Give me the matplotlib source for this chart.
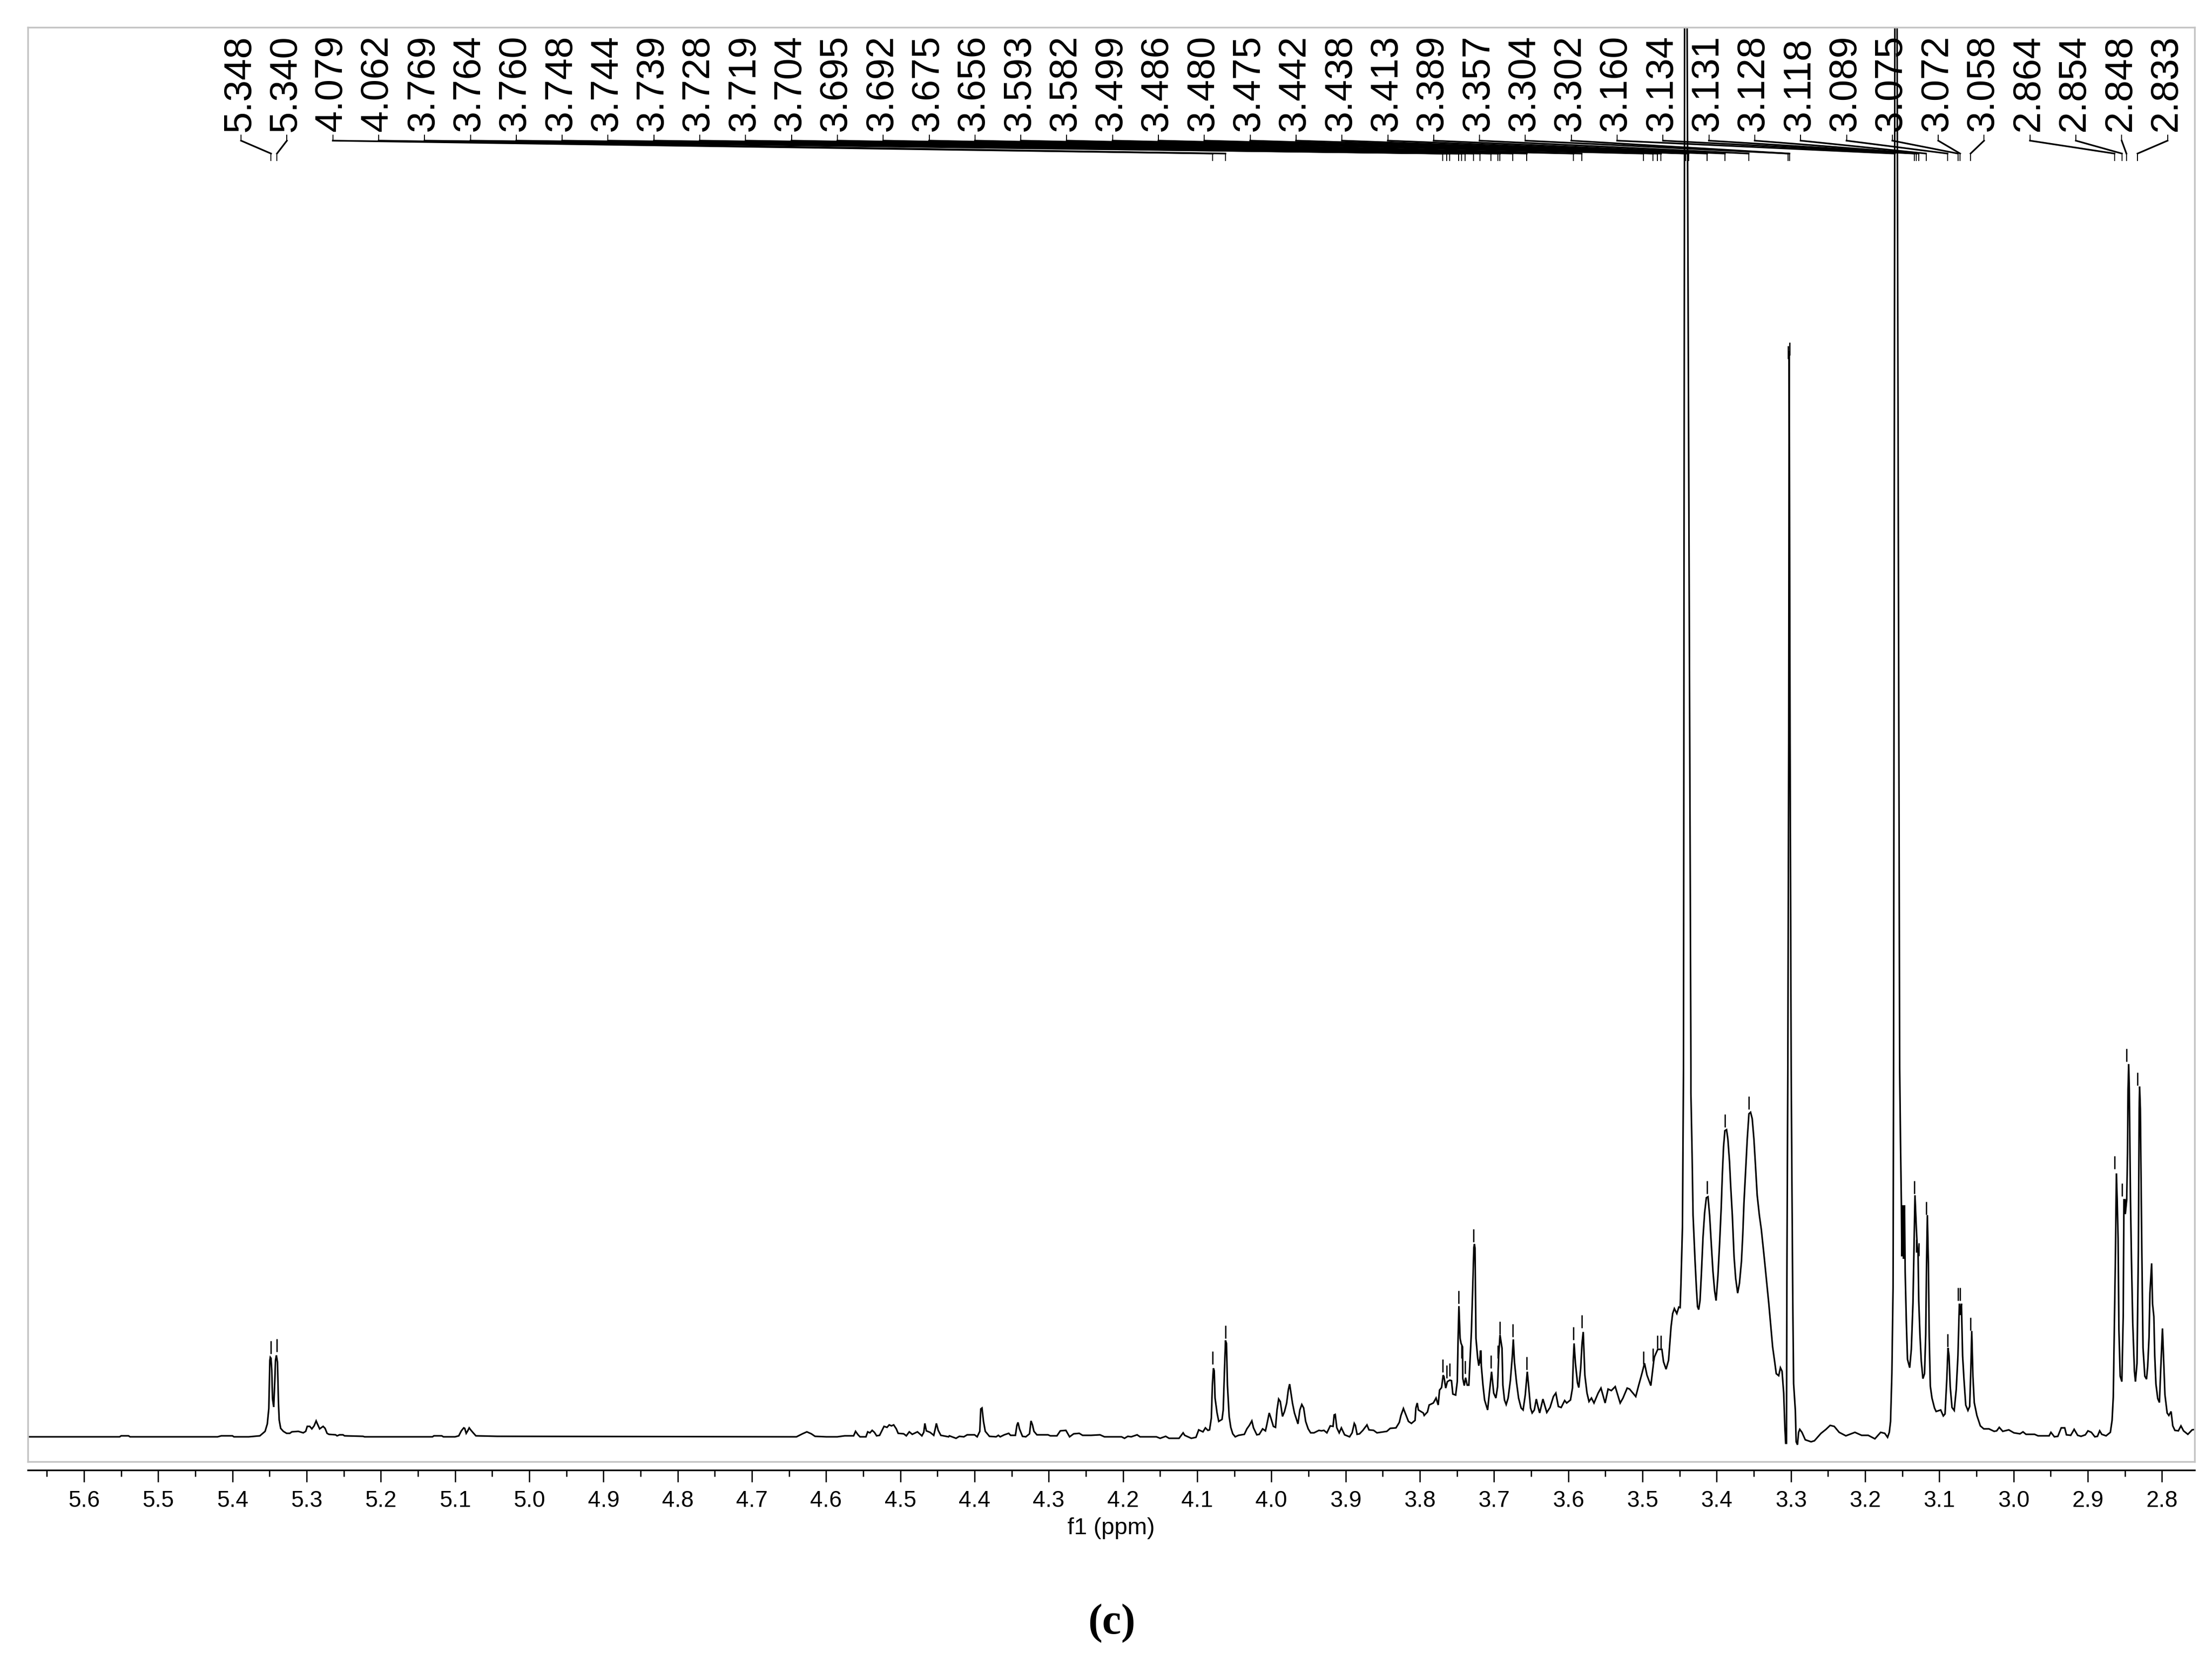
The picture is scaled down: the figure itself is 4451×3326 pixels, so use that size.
import numpy as np
import matplotlib
matplotlib.use("Agg")
import matplotlib.pyplot as plt
from matplotlib.lines import Line2D

# ---------- data (ppm, intensity) ----------
region_far_left = [
    (5.676,0),(5.552,0),(5.550,2),(5.540,2),(5.538,0),(5.420,0),(5.415,2),(5.400,2),(5.398,0),
    (5.378,0),(5.363,2),(5.356,11),(5.353,26),(5.351,57),(5.3496,154),(5.349,160),(5.348,158),
    (5.347,134),(5.346,77),(5.3444,60),(5.343,110),(5.342,154),(5.3408,164),(5.3393,150),(5.338,70),
    (5.337,34),(5.335,17),(5.3314,11),(5.327,7),(5.3227,7),(5.320,10),(5.3113,11),(5.3046,8),
    (5.3013,11),(5.2992,21),(5.2958,21),(5.293,16),(5.29,22),(5.2872,32),(5.2858,27),(5.2825,16),
    (5.2778,21),(5.2752,17),(5.2725,7),(5.27,5),(5.261,4),(5.259,2),(5.2557,4),(5.251,4),(5.249,2),
    (5.224,1),(5.222,0),(5.1305,0),(5.1285,2),(5.118,2),(5.1157,0),(5.1,0),(5.095,2),(5.0916,12),
    (5.0883,18),(5.087,17),(5.085,7),(5.083,12),(5.081,18),(5.079,14),(5.0756,8),(5.072,2),(5.0434,1),
    (4.640,0),(4.632,6),(4.626,10),(4.62,6),(4.615,1),(4.60,0),(4.585,0),
]
region_4p5 = [
    (4.575,2),(4.563,2),(4.5604,11),(4.557,4),(4.5544,0),(4.5464,0),(4.544,10),(4.541,8),(4.538,13),
    (4.535,9),(4.532,2),(4.528,3),(4.522,21),(4.518,19),(4.515,24),(4.512,22),(4.509,24),(4.5055,16),
    (4.503,7),(4.4955,6),(4.492,2),(4.488,10),(4.484,5),(4.477,10),(4.471,2),(4.4685,9),(4.467,27),
    (4.465,12),(4.46,9),(4.455,3),(4.453,16),(4.4515,27),(4.449,13),(4.4455,3),(4.435,0),(4.434,2),
    (4.425,-3),(4.4205,1),(4.4145,0),(4.41,4),(4.4,4),(4.3965,0),(4.393,11),(4.3917,56),(4.39,58),
    (4.388,31),(4.3856,11),(4.38,1),(4.371,0),(4.368,3),(4.3655,0),(4.36,4),(4.354,7),(4.3515,3),
    (4.345,3),(4.343,23),(4.3415,29),(4.3395,16),(4.3355,1),(4.331,0),(4.326,6),(4.324,32),(4.322,24),
    (4.32,11),(4.316,4),(4.301,4),(4.298,2),(4.289,2),(4.2845,12),(4.277,13),(4.272,0),(4.2665,6),
    (4.259,7),(4.2545,3),(4.243,3),(4.231,4),(4.225,0),(4.202,0),(4.198,-3),(4.1935,1),(4.189,0),
    (4.181,4),(4.177,0),(4.155,0),(4.15,-3),(4.1425,1),(4.138,-3),(4.1245,-3),
]
region_4p0 = [
    (4.119,8),(4.1169,3),(4.108,-3),(4.1017,-1),(4.098,14),(4.0923,10),(4.089,18),(4.0856,13),(4.0834,14),
    (4.081,38),(4.0796,104),(4.0782,138),(4.0771,133),(4.076,78),(4.0733,48),(4.071,31),(4.0666,35),
    (4.065,54),(4.0632,138),(4.0619,194),(4.0606,188),(4.0593,104),(4.0570,41),(4.0548,19),(4.0521,6),
    (4.0488,0),(4.0443,3),(4.0365,5),(4.0331,16),(4.0298,23),(4.0264,32),(4.0242,18),(4.0197,4),
    (4.0164,5),(4.0119,16),(4.0081,12),(4.0063,24),(4.003,48),(4.0008,38),(3.9974,21),(3.9945,19),
    (3.9925,54),(3.9903,76),(3.9881,71),(3.9851,41),(3.9824,51),(3.9795,68),(3.9773,94),(3.9755,106),
    (3.974,91),(3.9717,68),(3.969,48),(3.9643,26),(3.9617,54),(3.9591,65),(3.9566,58),(3.9539,31),
    (3.9505,16),(3.9472,8),(3.9427,8),(3.936,13),(3.9327,12),(3.9293,13),(3.9253,8),(3.9208,22),
    (3.917,21),(3.9155,44),(3.9141,45),(3.9119,18),(3.9087,8),(3.9058,18),(3.9014,4),(3.8947,0),
    (3.8913,8),(3.8884,27),(3.8869,23),(3.8846,5),(3.8813,6),(3.8768,13),(3.8713,24),(3.8686,14),
    (3.8623,13),(3.8578,8),(3.8445,11),(3.84,17),(3.8322,18),(3.8277,29),(3.8255,43),(3.8222,57),
    (3.8188,44),(3.8154,31),(3.8114,27),(3.8065,33),(3.8054,58),(3.8036,68),(3.802,54),(3.7954,48),
    (3.7942,43),(3.7898,50),(3.7875,64),(3.7819,68),(3.7782,78),(3.7753,64),
]
region_3p6 = [
    (3.7735,94),(3.7708,99),(3.7686,124),(3.7675,121),(3.7652,98),(3.763,111),(3.7596,114),(3.7574,113),
    (3.7556,86),(3.7518,84),(3.7496,111),(3.7485,198),(3.7474,263),(3.7458,198),(3.7445,188),(3.7425,181),
    (3.7422,118),(3.7402,103),(3.7384,119),(3.7362,104),(3.7340,104),(3.7324,154),(3.7306,211),(3.7284,321),
    (3.7273,380),(3.7266,388),(3.7257,380),(3.7244,198),(3.7221,158),(3.7206,143),(3.7177,174),(3.7172,143),
    (3.715,104),(3.7128,74),(3.7087,54),(3.706,94),(3.7034,131),(3.7005,88),(3.6976,78),(3.6953,101),
    (3.6938,164),(3.692,205),(3.6893,178),(3.6882,104),(3.6860,74),(3.6837,65),(3.6811,78),(3.6781,113),
    (3.6755,161),(3.6741,196),(3.6726,151),(3.6699,111),(3.667,78),(3.6636,58),(3.6609,54),(3.658,84),
    (3.6553,131),(3.6536,104),(3.6509,58),(3.6487,48),(3.6458,54),(3.6431,76),(3.6409,61),(3.6386,48),
    (3.6342,76),(3.629,49),(3.6246,59),(3.6201,81),(3.6168,88),(3.6134,61),(3.6096,59),(3.6049,73),
    (3.6022,68),(3.5971,74),(3.5944,98),(3.5933,154),(3.5922,188),(3.5904,148),(3.5877,109),(3.5859,99),
    (3.5833,138),(3.5815,188),(3.5799,211),(3.5777,124),(3.5748,88),(3.5721,71),(3.5688,78),(3.5654,68),
    (3.5598,88),(3.556,98),(3.5504,68),(3.5464,96),(3.542,93),(3.5368,101),(3.5301,68),(3.5263,78),
    (3.5207,98),(3.5174,96),(3.5091,81),(3.5051,104),(3.5007,128),(3.4973,148),(3.494,124),(3.4888,103),
    (3.485,151),(3.4839,161),(3.4795,176),(3.4739,176),(3.4717,151),(3.4683,136),(3.4649,154),(3.4634,184),
    (3.4616,221),(3.4594,248),(3.4571,258),(3.4538,248),(3.4511,261),
]
region_3p4 = [
    (3.4493,260),(3.4482,309),(3.4462,422),(3.4448,741),(3.4433,2836),(3.4416,3400),(3.4399,2836),
    (3.4348,741),(3.4348,692),(3.4332,569),(3.4319,446),(3.4292,353),(3.4274,299),(3.4259,262),(3.4243,256),
    (3.4225,274),(3.4207,328),(3.4185,402),(3.4163,451),(3.414,481),(3.4118,483),(3.4096,446),(3.4073,387),
    (3.4051,333),(3.4029,294),(3.4009,274),(3.3984,323),(3.3962,387),(3.394,461),(3.3924,530),(3.3908,584),
    (3.389,616),(3.3868,618),(3.385,599),(3.3828,554),(3.3812,505),(3.379,446),(3.3767,363),(3.3745,319),
    (3.3718,289),(3.3694,309),(3.3667,353),(3.3649,407),(3.3633,471),(3.3611,535),(3.3589,599),(3.3566,650),
    (3.3544,653),(3.3522,640),(3.3499,599),(3.3477,544),(3.3455,486),(3.3426,446),(3.3399,417),(3.3365,368),
    (3.3332,319),(3.3299,269),(3.327,220),(3.3247,181),(3.322,152),(3.3198,127),(3.3165,123),(3.3142,139),
    (3.312,132),(3.3098,88),(3.3082,19),(3.3071,-13),(3.306,-13),(3.3055,300),(3.3042,741),(3.3030,1400),
    (3.3024,2185),(3.3012,1400),(3.2997,741),(3.2986,495),(3.2975,269),(3.2964,107),(3.2941,53),(3.293,-10),
    (3.2912,-16),(3.2897,9),(3.2881,15),(3.2852,9),(3.2807,-6),(3.2729,-10),(3.2684,-8),(3.2595,7),(3.2528,15),
    (3.2472,23),(3.2417,21),(3.235,9),(3.226,2),(3.2138,9),(3.2048,3),(3.1959,3),(3.1869,-4),(3.1791,9),
    (3.1736,7),(3.1698,-1),(3.1675,9),(3.1658,31),(3.164,127),(3.1624,299),(3.1617,741),(3.1600,2836),
    (3.1585,3400),(3.1570,2836),(3.1535,741),
]
region_3p1 = [
    (3.1524,594),(3.1512,466),(3.1506,363),(3.1491,466),(3.1483,358),(3.147,466),(3.1461,333),(3.1445,230),
    (3.143,156),(3.14,139),(3.1378,176),(3.1356,269),(3.134,397),(3.1329,486),(3.1311,422),(3.13,387),
    (3.1287,368),(3.1278,274),(3.1262,206),(3.1244,152),(3.1222,117),(3.12,127),(3.1184,206),(3.1173,348),
    (3.1162,446),(3.1148,348),(3.1137,201),(3.1122,102),(3.11,78),(3.1066,58),(3.1044,51),
    (3.0982,54),(3.0947,42),(3.0924,46),(3.09,116),(3.0884,179),(3.087,163),(3.0854,101),(3.083,59),(3.08,53),
    (3.0773,95),(3.0750,163),(3.0731,268),(3.0715,245),(3.0703,268),(3.0687,163),(3.0669,116),(3.0645,64),
    (3.0615,53),(3.0592,61),(3.0576,137),(3.0564,213),(3.0548,122),(3.053,69),(3.0495,43),(3.0448,22),
    (3.0402,16),(3.0332,16),(3.0262,11),(3.0228,12),(3.0193,19),(3.0146,11),(3.0065,14),(2.9996,8),
    (2.9914,6),(2.9873,10),(2.9833,5),(2.9717,5),(2.9671,2),(2.9521,2),(2.9497,9),(2.9450,0),(2.9404,1),
    (2.9358,18),(2.9311,18),(2.9288,4),(2.923,3),(2.9184,15),(2.9137,3),(2.9091,1),(2.9033,4),(2.8998,12),
    (2.8952,9),(2.8905,0),(2.887,1),(2.884,12),(2.8812,5),(2.8754,2),(2.8696,9),
]
region_2p8 = [
    (2.8673,33),(2.8657,80),(2.8643,216),(2.8627,373),(2.8615,530),(2.8604,477),(2.8592,399),(2.8581,216),
    (2.8564,122),(2.8541,111),(2.8523,242),(2.8513,477),(2.8499,477),(2.8495,448),(2.8476,477),(2.8465,571),
    (2.8458,700),(2.8449,750),(2.8441,700),(2.8425,477),(2.8412,357),(2.8395,231),(2.8372,132),(2.8358,111),
    (2.8337,148),(2.8319,373),(2.8308,660),(2.8302,705),(2.8292,660),(2.8272,373),(2.8256,179),(2.8232,122),
    (2.8209,116),(2.8193,142),(2.8175,200),(2.8163,289),(2.814,349),(2.8128,268),(2.811,242),(2.8098,163),
    (2.8082,106),(2.8058,77),(2.8035,69),(2.8017,137),(2.7994,218),(2.7978,153),(2.7961,85),(2.7931,48),
    (2.7908,43),(2.7878,51),(2.7855,22),(2.7827,13),(2.778,12),(2.7745,22),(2.771,12),(2.7652,5),(2.7594,14),
    (2.7548,15),
]

peak_labels = ["5.348","5.340","4.079","4.062","3.769","3.764","3.760","3.748","3.744","3.739","3.728",
               "3.719","3.704","3.695","3.692","3.675","3.656","3.593","3.582","3.499","3.486","3.480",
               "3.475","3.442","3.438","3.413","3.389","3.357","3.304","3.302","3.160","3.134","3.131",
               "3.128","3.118","3.089","3.075","3.072","3.058","2.864","2.854","2.848","2.833"]
# upper end of each peak-pick marker (marker for off-scale peaks lies above the frame)
marker_tops = [193,197,172,224,156,144,148,294,184,153,418,174,164,184,232,227,161,221,245,172,178,204,
               204,3500,3500,515,649,685,2195,2202,3500,515,397,390,473,207,300,300,240,565,510,781,733]

tick_values = [5.6,5.5,5.4,5.3,5.2,5.1,5.0,4.9,4.8,4.7,4.6,4.5,4.4,4.3,4.2,4.1,4.0,3.9,3.8,3.7,3.6,3.5,
               3.4,3.3,3.2,3.1,3.0,2.9,2.8]
tick_labels = ["5.6","5.5","5.4","5.3","5.2","5.1","5.0","4.9","4.8","4.7","4.6","4.5","4.4","4.3","4.2",
               "4.1","4.0","3.9","3.8","3.7","3.6","3.5","3.4","3.3","3.2","3.1","3.0","2.9","2.8"]
minor_values = [5.65,5.55,5.45,5.35,5.25,5.15,5.05,4.95,4.85,4.75,4.65,4.55,4.45,4.35,4.25,4.15,4.05,3.95,
                3.85,3.75,3.65,3.55,3.45,3.35,3.25,3.15,3.05,2.95,2.85]
x_label = "f1 (ppm)"
panel_label = "(c)"

# ---------- layout ----------
W, H = 4451, 3326
DPI = 100
plt.rcParams["font.family"] = ["Liberation Sans", "DejaVu Sans"]
fig = plt.figure(figsize=(W / DPI, H / DPI), dpi=DPI, facecolor="white")

FL, FR, FT, FB = 56, 4416, 55, 2941
BASE = 2891
ax = fig.add_axes([FL / W, 1 - FB / H, (FR - FL) / W, (FB - FT) / H])
ax.set_xlim(5.6757, 2.7561)
ax.set_ylim(BASE - FB, BASE - FT)
ax.set_xticks([]); ax.set_yticks([])
for s in ax.spines.values():
    s.set_color("#C4C4C4")
    s.set_linewidth(2.5)

regions = [region_far_left, region_4p5, region_4p0, region_3p6, region_3p4, region_3p1, region_2p8]
spec = np.array([p for r in regions for p in r])
ax.plot(spec[:, 0], spec[:, 1], color="black", lw=2.3, solid_joinstyle="miter")

peak_ppm = np.array([float(s) for s in peak_labels])
tops = np.array(marker_tops, dtype=float)
ax.vlines(peak_ppm, tops - 26, tops, color="black", lw=1.9)

# bottom ruler
ax2 = fig.add_axes([FL / W, 1 - 2958 / H, (FR - FL) / W, 0.0002], facecolor="none")
ax2.set_xlim(ax.get_xlim())
ax2.set_yticks([])
for k in ("top", "left", "right"):
    ax2.spines[k].set_visible(False)
ax2.spines["bottom"].set_linewidth(2.4)
ax2.set_xticks(tick_values)
ax2.set_xticklabels(tick_labels, fontsize=33)
ax2.set_xticks(minor_values, minor=True)
ax2.tick_params(axis="x", which="major", length=17, width=1.9, pad=12)
ax2.tick_params(axis="x", which="minor", length=9, width=1.9)

fig.text(2236 / W, 1 - 3075 / H, x_label, ha="center", va="center", fontsize=34)
fig.text(2237 / W, 1 - 3266 / H, panel_label, ha="center", va="center", fontsize=62,
         family="Liberation Serif", fontweight="bold")

# peak-pick labels with their leader lines
fig.canvas.draw()
LX0, LDX = 485.0, 92.3
for i, s in enumerate(peak_labels):
    lx = LX0 + LDX * i
    px = ax.transData.transform((peak_ppm[i], 0))[0]
    fig.text((lx - 3) / W, 1 - 265 / H, s, rotation=90, ha="center", va="bottom", fontsize=56)
    fig.add_artist(Line2D([lx, lx], [H - 272, H - 283], transform=None, color="black", lw=1.4))
    fig.add_artist(Line2D([lx, px], [H - 283, H - 309], transform=None, color="black", lw=2.4))
    fig.add_artist(Line2D([px, px], [H - 309, H - 323], transform=None, color="black", lw=1.4))

fig.savefig("out.png", dpi=DPI, facecolor="white")
